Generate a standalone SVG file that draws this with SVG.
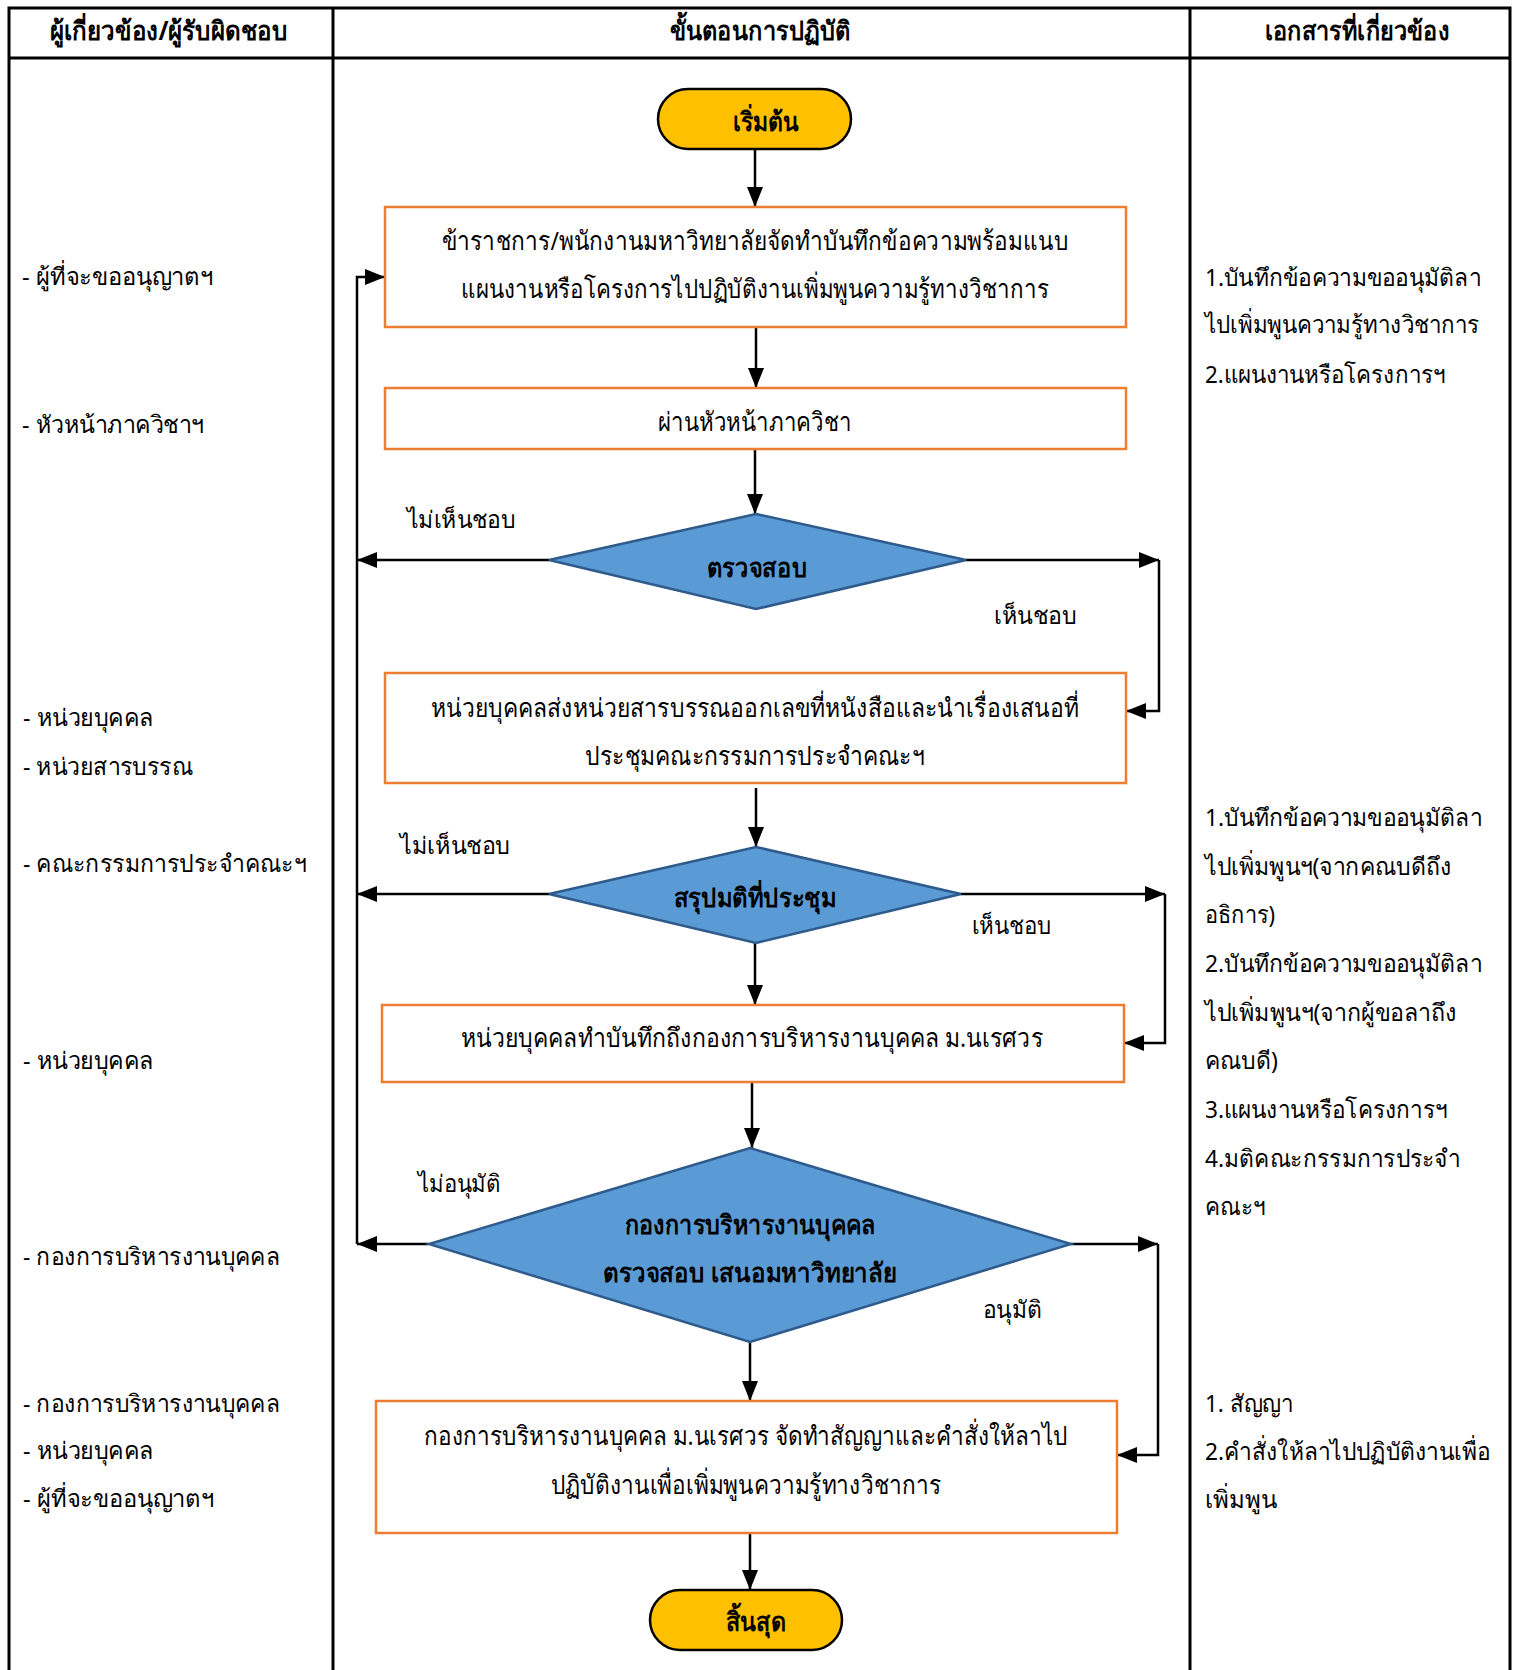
<svg xmlns="http://www.w3.org/2000/svg" width="1517" height="1670" viewBox="0 0 1517 1670">
<style>
.grid{fill:none;stroke:#000;stroke-width:3}
.box{fill:#fff;stroke:#ED7D31;stroke-width:2.5}
.dia{fill:#5B9BD5;stroke:#2E5A8C;stroke-width:2.5}
.term{fill:#FFC000;stroke:#000;stroke-width:2.5}
.con{fill:none;stroke:#000;stroke-width:2.5}
.t{font-family:"Noto Sans","DejaVu Sans",sans-serif;fill:#000}
.hd{font-size:26px;font-weight:bold;text-anchor:middle}
.bx{font-size:26px;text-anchor:middle}
.bd{font-size:26px;font-weight:bold;text-anchor:middle}
.lb{font-size:24px}
.side{font-size:24px}
</style>
<defs>
<marker id="ah" viewBox="0 0 20 16" refX="20" refY="8" markerWidth="20" markerHeight="16" markerUnits="userSpaceOnUse" orient="auto">
<path d="M0 0 L20 8 L0 16 Z" fill="#000"/>
</marker>
</defs>
<rect width="1517" height="1670" fill="#fff"/>
<g id="table">
<path class="grid" d="M9 1672 V8 H1510 V1672 M9 58 H1510 M333 8 V1672 M1190 8 V1672"/>
<text class="t hd" x="169" y="40" textLength="238" lengthAdjust="spacingAndGlyphs">ผู้เกี่ยวข้อง/ผู้รับผิดชอบ</text>
<text class="t hd" x="760" y="40" textLength="181" lengthAdjust="spacingAndGlyphs">ขั้นตอนการปฏิบัติ</text>
<text class="t hd" x="1357" y="40" textLength="185" lengthAdjust="spacingAndGlyphs">เอกสารที่เกี่ยวข้อง</text>
</g>
<g id="responsible">
<text class="t side" x="22" y="285" textLength="191" lengthAdjust="spacingAndGlyphs">- ผู้ที่จะขออนุญาตฯ</text>
<text class="t side" x="22" y="433" textLength="182" lengthAdjust="spacingAndGlyphs">- หัวหน้าภาควิชาฯ</text>
<text class="t side" x="23" y="726" textLength="131" lengthAdjust="spacingAndGlyphs">- หน่วยบุคคล</text>
<text class="t side" x="23" y="775" textLength="170" lengthAdjust="spacingAndGlyphs">- หน่วยสารบรรณ</text>
<text class="t side" x="23" y="872" textLength="283" lengthAdjust="spacingAndGlyphs">- คณะกรรมการประจำคณะฯ</text>
<text class="t side" x="23" y="1069" textLength="131" lengthAdjust="spacingAndGlyphs">- หน่วยบุคคล</text>
<text class="t side" x="23" y="1265" textLength="257" lengthAdjust="spacingAndGlyphs">- กองการบริหารงานบุคคล</text>
<text class="t side" x="23" y="1412" textLength="257" lengthAdjust="spacingAndGlyphs">- กองการบริหารงานบุคคล</text>
<text class="t side" x="23" y="1459" textLength="131" lengthAdjust="spacingAndGlyphs">- หน่วยบุคคล</text>
<text class="t side" x="23" y="1507" textLength="191" lengthAdjust="spacingAndGlyphs">- ผู้ที่จะขออนุญาตฯ</text>
</g>
<g id="documents">
<text class="t side" x="1205" y="286" textLength="276" lengthAdjust="spacingAndGlyphs">1.บันทึกข้อความขออนุมัติลา</text>
<text class="t side" x="1205" y="333" textLength="274" lengthAdjust="spacingAndGlyphs">ไปเพิ่มพูนความรู้ทางวิชาการ</text>
<text class="t side" x="1205" y="383" textLength="240" lengthAdjust="spacingAndGlyphs">2.แผนงานหรือโครงการฯ</text>
<text class="t side" x="1205" y="826" textLength="277" lengthAdjust="spacingAndGlyphs">1.บันทึกข้อความขออนุมัติลา</text>
<text class="t side" x="1205" y="875" textLength="247" lengthAdjust="spacingAndGlyphs">ไปเพิ่มพูนฯ(จากคณบดีถึง</text>
<text class="t side" x="1205" y="923" textLength="70" lengthAdjust="spacingAndGlyphs">อธิการ)</text>
<text class="t side" x="1205" y="972" textLength="277" lengthAdjust="spacingAndGlyphs">2.บันทึกข้อความขออนุมัติลา</text>
<text class="t side" x="1205" y="1021" textLength="252" lengthAdjust="spacingAndGlyphs">ไปเพิ่มพูนฯ(จากผู้ขอลาถึง</text>
<text class="t side" x="1205" y="1069" textLength="73" lengthAdjust="spacingAndGlyphs">คณบดี)</text>
<text class="t side" x="1205" y="1118" textLength="242" lengthAdjust="spacingAndGlyphs">3.แผนงานหรือโครงการฯ</text>
<text class="t side" x="1205" y="1167" textLength="255" lengthAdjust="spacingAndGlyphs">4.มติคณะกรรมการประจำ</text>
<text class="t side" x="1205" y="1215" textLength="60" lengthAdjust="spacingAndGlyphs">คณะฯ</text>
<text class="t side" x="1205" y="1412" textLength="88" lengthAdjust="spacingAndGlyphs">1. สัญญา</text>
<text class="t side" x="1205" y="1460" textLength="285" lengthAdjust="spacingAndGlyphs">2.คำสั่งให้ลาไปปฏิบัติงานเพื่อ</text>
<text class="t side" x="1205" y="1508" textLength="72" lengthAdjust="spacingAndGlyphs">เพิ่มพูน</text>
</g>
<g id="connectors">
<path class="con" d="M755 150 V207" marker-end="url(#ah)"/>
<path class="con" d="M756 327 V388" marker-end="url(#ah)"/>
<path class="con" d="M755 449 V514" marker-end="url(#ah)"/>
<path class="con" d="M549 560 H357" marker-end="url(#ah)"/>
<path class="con" d="M966 560 H1159" marker-end="url(#ah)"/>
<path class="con" d="M1159 560 V711 H1126" marker-end="url(#ah)"/>
<path class="con" d="M756 788 V847" marker-end="url(#ah)"/>
<path class="con" d="M549 894 H357" marker-end="url(#ah)"/>
<path class="con" d="M961 894 H1165" marker-end="url(#ah)"/>
<path class="con" d="M1165 894 V1043 H1124" marker-end="url(#ah)"/>
<path class="con" d="M755 943 V1005" marker-end="url(#ah)"/>
<path class="con" d="M752 1082 V1148" marker-end="url(#ah)"/>
<path class="con" d="M429 1244 H357" marker-end="url(#ah)"/>
<path class="con" d="M1071 1244 H1158" marker-end="url(#ah)"/>
<path class="con" d="M1158 1244 V1455 H1117" marker-end="url(#ah)"/>
<path class="con" d="M750 1342 V1401" marker-end="url(#ah)"/>
<path class="con" d="M750 1534 V1590" marker-end="url(#ah)"/>
<path class="con" d="M357 1244 V277 H385" marker-end="url(#ah)"/>
<text class="t lb" x="407" y="528" textLength="108" lengthAdjust="spacingAndGlyphs">ไม่เห็นชอบ</text>
<text class="t lb" x="994" y="624" textLength="82" lengthAdjust="spacingAndGlyphs">เห็นชอบ</text>
<text class="t lb" x="400" y="854" textLength="110" lengthAdjust="spacingAndGlyphs">ไม่เห็นชอบ</text>
<text class="t lb" x="972" y="934" textLength="79" lengthAdjust="spacingAndGlyphs">เห็นชอบ</text>
<text class="t lb" x="418" y="1192" textLength="83" lengthAdjust="spacingAndGlyphs">ไม่อนุมัติ</text>
<text class="t lb" x="983" y="1318" textLength="59" lengthAdjust="spacingAndGlyphs">อนุมัติ</text>
</g>
<g id="start">
<rect class="term" x="658" y="89" width="193" height="60" rx="30"/>
<text class="t bd" x="766" y="131" textLength="66" lengthAdjust="spacingAndGlyphs">เริ่มต้น</text>
</g>
<g id="step1">
<rect class="box" x="385" y="207" width="741" height="120"/>
<text class="t bx" x="755" y="250" textLength="627" lengthAdjust="spacingAndGlyphs">ข้าราชการ/พนักงานมหาวิทยาลัยจัดทำบันทึกข้อความพร้อมแนบ</text>
<text class="t bx" x="755" y="298" textLength="588" lengthAdjust="spacingAndGlyphs">แผนงานหรือโครงการไปปฏิบัติงานเพิ่มพูนความรู้ทางวิชาการ</text>
</g>
<g id="step2">
<rect class="box" x="385" y="388" width="741" height="61"/>
<text class="t bx" x="755" y="431" textLength="194" lengthAdjust="spacingAndGlyphs">ผ่านหัวหน้าภาควิชา</text>
</g>
<g id="decision1">
<polygon class="dia" points="756,514 966,560 756,609 549,560"/>
<text class="t bd" x="757" y="577" textLength="100" lengthAdjust="spacingAndGlyphs">ตรวจสอบ</text>
</g>
<g id="step3">
<rect class="box" x="385" y="673" width="741" height="110"/>
<text class="t bx" x="755" y="717" textLength="648" lengthAdjust="spacingAndGlyphs">หน่วยบุคคลส่งหน่วยสารบรรณออกเลขที่หนังสือและนำเรื่องเสนอที่</text>
<text class="t bx" x="755" y="765" textLength="340" lengthAdjust="spacingAndGlyphs">ประชุมคณะกรรมการประจำคณะฯ</text>
</g>
<g id="decision2">
<polygon class="dia" points="756,847 961,894 756,943 549,894"/>
<text class="t bd" x="755" y="907" textLength="163" lengthAdjust="spacingAndGlyphs">สรุปมติที่ประชุม</text>
</g>
<g id="step4">
<rect class="box" x="382" y="1005" width="742" height="77"/>
<text class="t bx" x="752" y="1047" textLength="582" lengthAdjust="spacingAndGlyphs">หน่วยบุคคลทำบันทึกถึงกองการบริหารงานบุคคล ม.นเรศวร</text>
</g>
<g id="decision3">
<polygon class="dia" points="750,1148 1071,1244 750,1342 429,1244"/>
<text class="t bd" x="750" y="1234" textLength="251" lengthAdjust="spacingAndGlyphs">กองการบริหารงานบุคคล</text>
<text class="t bd" x="750" y="1282" textLength="294" lengthAdjust="spacingAndGlyphs">ตรวจสอบ เสนอมหาวิทยาลัย</text>
</g>
<g id="step5">
<rect class="box" x="376" y="1401" width="741" height="132"/>
<text class="t bx" x="746" y="1445" textLength="644" lengthAdjust="spacingAndGlyphs">กองการบริหารงานบุคคล ม.นเรศวร จัดทำสัญญาและคำสั่งให้ลาไป</text>
<text class="t bx" x="746" y="1494" textLength="391" lengthAdjust="spacingAndGlyphs">ปฏิบัติงานเพื่อเพิ่มพูนความรู้ทางวิชาการ</text>
</g>
<g id="end">
<rect class="term" x="650" y="1590" width="192" height="60" rx="30"/>
<text class="t bd" x="756" y="1631" textLength="60" lengthAdjust="spacingAndGlyphs">สิ้นสุด</text>
</g>
</svg>
